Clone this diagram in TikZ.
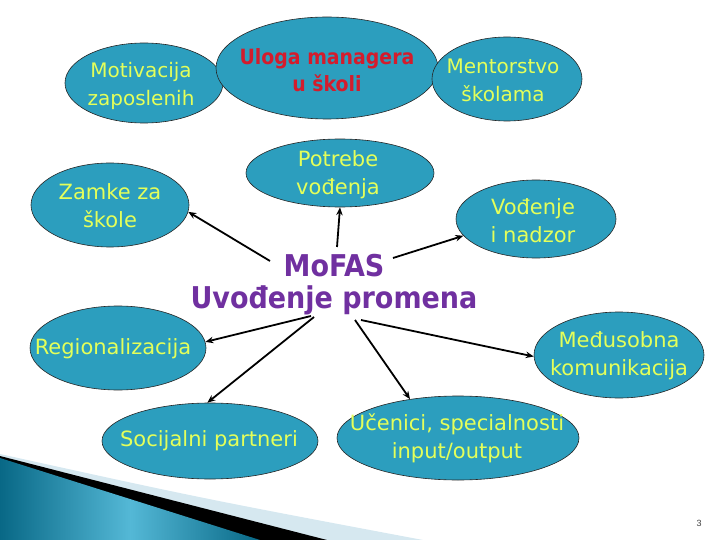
\documentclass[tikz,border=0pt]{standalone}
\usepackage{fontspec}
\setmainfont{DejaVu Sans}
\newfontfamily\condfont{DejaVu Sans Condensed}
\newfontfamily\numfont{Liberation Sans}
\usetikzlibrary{shapes.geometric,arrows.meta}
\definecolor{bubblefill}{RGB}{44,158,190}
\definecolor{bubbletext}{RGB}{228,255,90}
\definecolor{redtext}{RGB}{212,28,44}
\definecolor{purpletext}{RGB}{112,48,160}
\definecolor{lightband}{RGB}{214,232,240}
\definecolor{darkteal}{RGB}{8,104,134}
\definecolor{midteal}{RGB}{84,184,214}
\begin{document}
\begin{tikzpicture}[x=1pt,y=-1pt,
  bubble/.style={ellipse, draw=black!85, line width=0.6pt, fill=bubblefill,
    inner sep=0pt},
  btext/.style={text=bubbletext, inner sep=0pt, align=center,
    font=\fontsize{21}{28}\selectfont},
  smalltext/.style={font=\fontsize{20}{28}\selectfont},
  arr/.style={-{Stealth[length=8pt,width=6.5pt]}, line width=1.8pt, black}]
\useasboundingbox (0,0) rectangle (720,540);
% bottom-left decoration
\fill[lightband] (0,454) .. controls (200,498) .. (423,540) -- (0,540) -- cycle;
\fill[black] (0,456) -- (327,540) -- (0,540) -- cycle;
\shade[left color=darkteal, right color=darkteal, middle color=midteal]
  (0,458) -- (260,540) -- (0,540) -- cycle;
% ellipses
\node[bubble, minimum width=158, minimum height=80] (motiv) at (144,83) {};
\node[bubble, minimum width=222, minimum height=102] (uloga) at (327,68) {};
\node[bubble, minimum width=150, minimum height=84] (mentor) at (507,79) {};
\node[bubble, minimum width=188, minimum height=68] (potrebe) at (340,173) {};
\node[bubble, minimum width=158, minimum height=84] (zamke) at (110,205) {};
\node[bubble, minimum width=160, minimum height=78] (vodjenje) at (536,219) {};
\node[bubble, minimum width=176, minimum height=84] (region) at (118,348) {};
\node[bubble, minimum width=216, minimum height=76] (socij) at (210,441) {};
\node[bubble, minimum width=242, minimum height=84] (ucenici) at (458,438) {};
\node[bubble, minimum width=170, minimum height=86] (medju) at (619,355) {};
% texts
\node[btext, smalltext] (motivT) at (141,86) {Motivacija\\zaposlenih};
\node[btext, text=redtext, font=\condfont\bfseries\fontsize{21}{27}\selectfont] (ulogaT) at (327,70) {Uloga managera\\u školi};
\node[btext, smalltext] (mentorT) at (503,80) {Mentorstvo\\školama};
\node[btext] (potrebeT) at (338,175) {Potrebe\\vođenja};
\node[btext] (zamkeT) at (110,206) {Zamke za\\škole};
\node[btext] (vodjenjeT) at (533,221) {Vođenje\\i nadzor};
\node[btext] (regionT) at (113,349) {Regionalizacija};
\node[btext] (socijT) at (209,441) {Socijalni partneri};
\node[btext] (uceniciT) at (457,438) {Učenici, specialnosti\\input/output};
\node[btext] (medjuT) at (619,356) {Međusobna\\komunikacija};
% centre text
\node[align=center, text=purpletext, inner sep=0pt,
  font=\condfont\bfseries\fontsize{30}{32}\selectfont] (mofas) at (334,285) {MoFAS\\Uvođenje promena};
% arrow start points
\coordinate (sPot) at (337,247);
\coordinate (sZam) at (270,261);
\coordinate (sVod) at (393,258);
\coordinate (sReg) at (311,316);
\coordinate (sSoc) at (314,317);
\coordinate (sUce) at (355,320);
\coordinate (sMed) at (361,320);
\draw[arr] (sPot) -- (potrebe.270);
\draw[arr] (sZam) -- (zamke.-5);
\draw[arr] (sVod) -- (vodjenje.193);
\draw[arr] (sReg) -- (region.4);
\draw[arr] (sSoc) -- (socij.94);
\draw[arr] (sUce) -- (ucenici.141);
\draw[arr] (sMed) -- (medju.181);
% page number
\node[font=\numfont\fontsize{9}{9}\selectfont, text=black!75] (pnum) at (699,523) {3};
\end{tikzpicture}
\end{document}
